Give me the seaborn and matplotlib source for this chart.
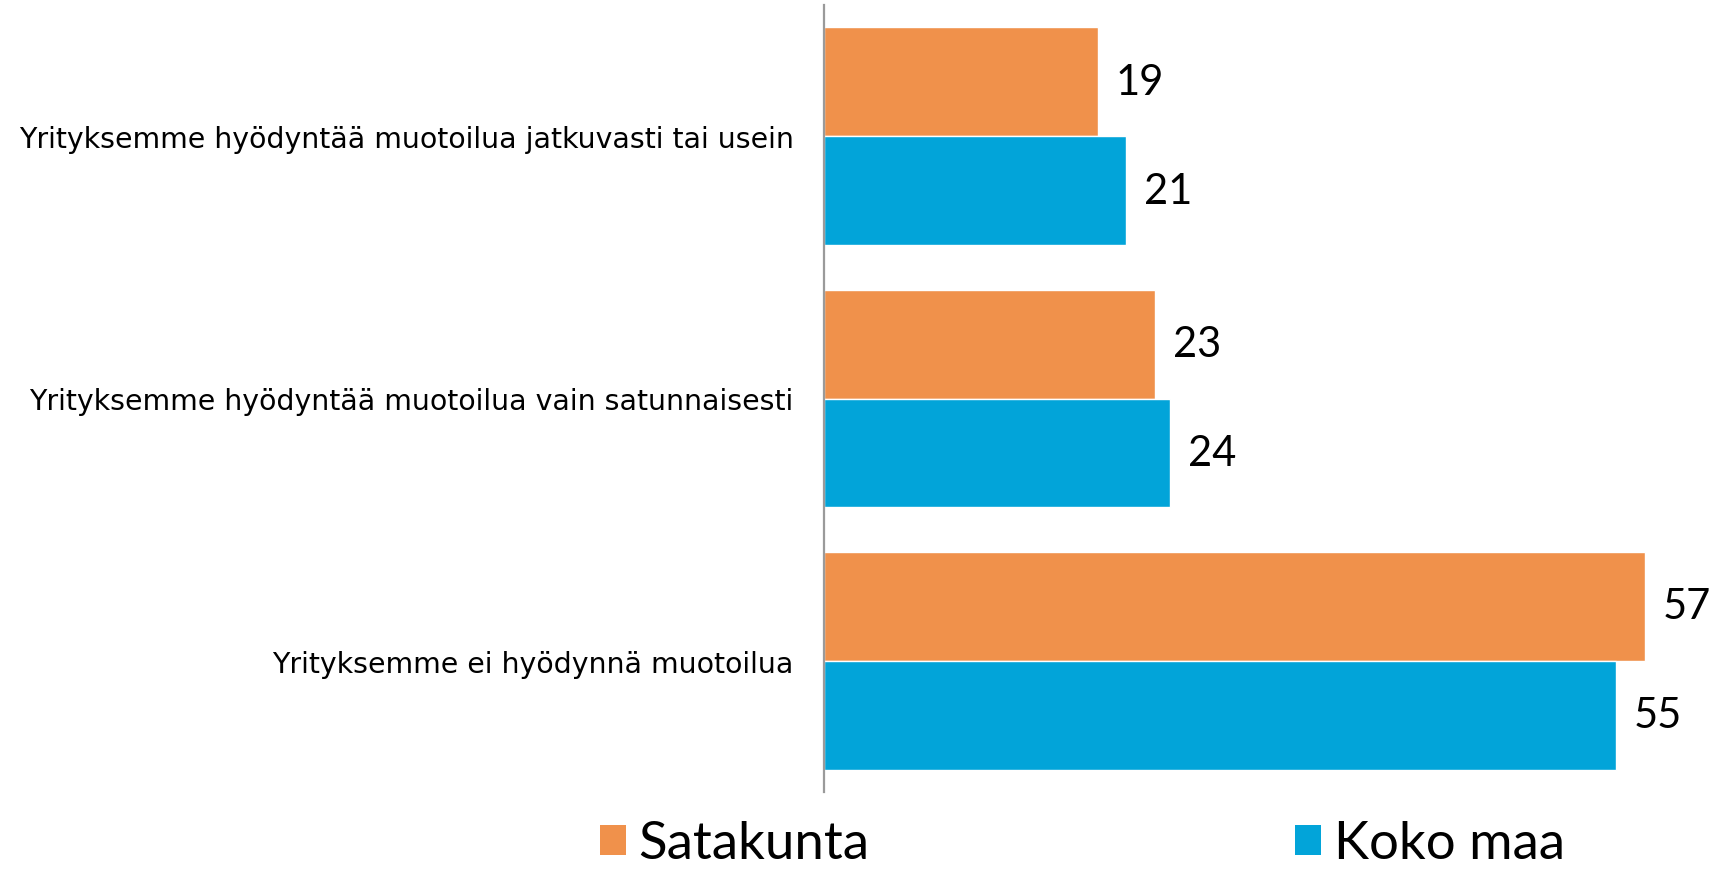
import matplotlib
matplotlib.use("Agg")
import matplotlib.pyplot as plt
import seaborn as sns
import pandas as pd

categories = [
    "Yrityksemme hyödyntää muotoilua jatkuvasti tai usein",
    "Yrityksemme hyödyntää muotoilua vain satunnaisesti",
    "Yrityksemme ei hyödynnä muotoilua",
]
series_names = ["Satakunta", "Koko maa"]
satakunta = [19, 23, 57]
koko_maa = [21, 24, 55]
colors = ["#F0914B", "#02A4D9"]

df = pd.DataFrame({
    "kategoria": categories * 2,
    "sarja": [series_names[0]] * 3 + [series_names[1]] * 3,
    "arvo": satakunta + koko_maa,
})

sns.set_theme(style="white")
plt.rcParams["font.family"] = ["DejaVu Sans"]
plt.rcParams["text.color"] = "black"

W, H = 1713, 870
fig = plt.figure(figsize=(W / 100, H / 100), dpi=100)
ax = fig.add_axes([824 / W, 1 - 793 / H, (1688 - 824) / W, (793 - 6) / H])

sns.barplot(data=df, y="kategoria", x="arvo", hue="sarja", order=categories,
            hue_order=series_names, palette=colors, orient="h", width=0.83,
            saturation=1, ax=ax, legend=False)

ax.set_xlim(0, 60)
ax.set_ylim(2.5, -0.5)
ax.set_xlabel("")
ax.set_ylabel("")
ax.set_xticks([])
for s in ["top", "right", "bottom"]:
    ax.spines[s].set_visible(False)
ax.spines["left"].set_color("#9A9A9A")
ax.spines["left"].set_linewidth(1.6)
ax.tick_params(axis="y", length=0, pad=22, labelsize=20.4, labelcolor="black")

for cont in ax.containers:
    ax.bar_label(cont, padding=13, fontsize=30, family="Lato", color="black")

from matplotlib.patches import Patch
positions = [600, 1295]
for name, col, xpos in zip(series_names, colors, positions):
    fig.legend(handles=[Patch(facecolor=col, edgecolor="none")], labels=[name],
               loc="center left", bbox_to_anchor=(xpos / W, 1 - 845 / H),
               frameon=False, borderpad=0, borderaxespad=0,
               handlelength=0.5, handleheight=0.5, handletextpad=0.23,
               labelcolor="black",
               prop={"family": "Lato", "size": 38})

fig.savefig("out.png", dpi=100)
